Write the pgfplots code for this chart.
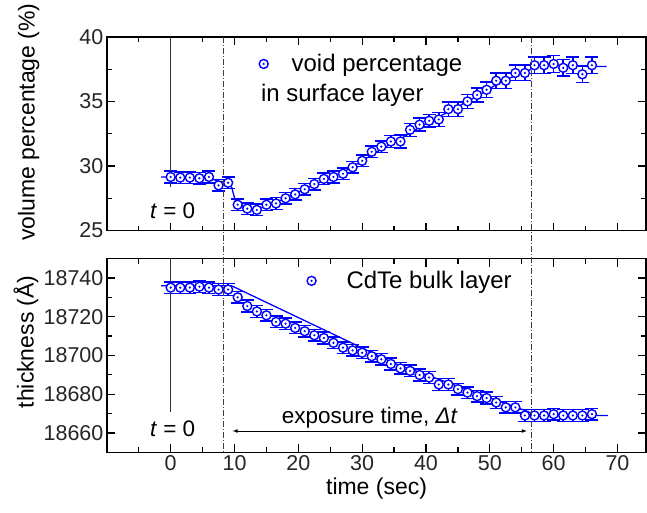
\documentclass[border=0pt]{standalone}
\usepackage{pgfplots}
\pgfplotsset{compat=1.18}
\usepackage{pgfplotstable}
\usepackage{fontspec}
\setmainfont{Liberation Sans}
\pgfdeclareplotmark{odot}{%
  \pgfpathcircle{\pgfpointorigin}{\pgfplotmarksize}%
  \pgfusepathqfillstroke
  \pgfscope
  \pgfsetfillcolor{blue}%
  \pgfpathcircle{\pgfpointorigin}{0.27\pgfplotmarksize}%
  \pgfusepathqfill
  \endpgfscope
}
\pgfplotstableread{
t v e
0 29.15 0.45
1.5 29.1 0.45
3 29.1 0.45
4.5 29.05 0.45
6 29.15 0.45
7.5 28.5 0.45
9 28.7 0.45
10.5 27.0 0.45
12 26.7 0.45
13.5 26.6 0.45
15 27.0 0.45
16.5 27.1 0.45
18 27.5 0.45
19.5 27.8 0.45
21 28.2 0.45
22.5 28.6 0.45
24 29.0 0.45
25.5 29.15 0.45
27 29.4 0.45
28.5 29.9 0.45
30 30.4 0.45
31.5 31.1 0.45
33 31.5 0.45
34.5 31.9 0.45
36 31.9 0.5
37.5 32.8 0.5
39 33.2 0.5
40.5 33.5 0.5
42 33.6 0.55
43.5 34.4 0.55
45 34.4 0.55
46.5 35.0 0.55
48 35.5 0.55
49.5 35.9 0.6
51 36.6 0.6
52.5 36.6 0.6
54 37.2 0.6
55.5 37.2 0.6
57 37.8 0.65
58.5 37.8 0.65
60 37.9 0.65
61.5 37.6 0.65
63 37.8 0.65
64.5 37.1 0.65
66 37.8 0.65
}\topdata
\pgfplotstableread{
t v e
0 18735 3
1.5 18735 3
3 18735 3
4.5 18735.5 3
6 18735 3
7.5 18734 3
9 18734 3
10.5 18730 3
12 18725.5 3
13.5 18722.7 3
15 18720.7 3
16.5 18717.3 3
18 18716.4 3
19.5 18714.2 3
21 18712.5 3
22.5 18710.4 3
24 18709 3
25.5 18706.5 3
27 18704 3
28.5 18702.6 3
30 18701.4 3
31.5 18699.6 3
33 18698 3
34.5 18695.6 3
36 18693.3 3
37.5 18692 3
39 18689.9 3
40.5 18688.6 3
42 18685 3
43.5 18685 3
45 18682.6 3
46.5 18680.8 3
48 18679 3
49.5 18678 3
51 18675.7 3
52.5 18673.2 3
54 18673.2 3
55.5 18669 3
57 18669 3
58.5 18669 3
60 18669.7 3
61.5 18669 3
63 18669 3
64.5 18669 3
66 18669.7 3
}\botdata
\pgfplotsset{
  panel/.style={
    scale only axis, width=540pt, height=194pt,
    xmin=-10, xmax=74.5,
    xtick={0,10,...,70}, minor xtick={-5,5,...,75},
    tick align=inside, tick pos=both,
    major tick length=8pt, minor tick length=5pt,
    every tick/.style={black, line width=1.2pt},
    axis line style={line width=1.6pt},
    tick label style={font=\fontsize{21.5}{25}\selectfont, text=black!85},
    label style={font=\fontsize{23}{27}\selectfont},
    /pgf/number format/assume math mode=true,
    /pgf/number format/1000 sep={},
    scaled y ticks=false,
    clip=false,
  },
  datapl/.style={blue, only marks, mark=odot, mark size=4.5pt,
    mark options={fill=white, solid, line width=1.4pt},
    error bars/.cd, y dir=both, y explicit,
    error bar style={line width=1.5pt, blue},
    error mark options={rotate=90, mark size=6.5pt, line width=1.5pt, blue}},
  fitpl/.style={blue, line width=1.3pt, no marks, forget plot},
}
\begin{document}
\begin{tikzpicture}
\begin{axis}[panel, at={(0,0)}, anchor=south west,
  ymin=25, ymax=40, ytick={25,30,35,40}, minor ytick={27.5,32.5,37.5},
  xticklabels={},
  ylabel={volume percentage (\%)},
  ylabel style={at={(axis description cs:-0.145,0.56)}, anchor=center},
  legend style={draw=none, fill=none, at={(axis cs:13.6,37.9)}, anchor=west,
    font=\fontsize{24}{28}\selectfont, inner sep=0pt},
  legend image code/.code={\path[draw=none, fill=none] (0pt,0pt) -- (32pt,0pt); \draw[#1] plot coordinates {(6pt,0pt)};},
]
\addplot[fitpl] coordinates {(-1.5,29.15) (0,29.15) (6,29.1) (7.5,28.8) (9.3,28.8) (10.3,27.0) (12,26.7) (13.5,26.65) (15,26.9) (18,27.5) (21,28.2) (24,28.9) (27,29.5) (30,30.4) (33,31.3) (36,32.1) (39,33.0) (42,33.8) (45,34.6) (48,35.4) (51,36.3) (54,37.0) (56,37.3) (57,37.8) (60,37.8) (66,37.7) (68.3,37.7)};
\addplot[datapl] table[x=t, y=v, y error=e] {\topdata};
\addlegendentry{void percentage}
\draw[black!80, line width=1.3pt] (axis cs:0,40) -- (axis cs:0,28.4);
\node[font=\fontsize{22.5}{26}\selectfont] at (axis cs:0.3,26.55) {\textit{t} = 0};
\node[anchor=west, font=\fontsize{24}{28}\selectfont] at (axis cs:13.6,35.5) {in surface layer};
\coordinate (ta) at (axis cs:8.3,40);
\coordinate (tb) at (axis cs:56.5,40);
\end{axis}
\begin{axis}[panel, at={(0,-222pt)}, anchor=south west,
  ymin=18650, ymax=18750, ytick={18660,18680,...,18740}, minor ytick={18650,18670,...,18750},
  xlabel={time (sec)},
  ylabel={thickness (Å)},
  ylabel style={at={(axis description cs:-0.15,0.57)}, anchor=center},
  legend style={draw=none, fill=none, at={(axis cs:21.1,18738.5)}, anchor=west,
    font=\fontsize{24}{28}\selectfont, inner sep=0pt},
  legend image code/.code={\path[draw=none, fill=none] (0pt,0pt) -- (39pt,0pt); \draw[#1] plot coordinates {(6pt,0pt)};},
]
\addplot[fitpl] coordinates {(-1.5,18736) (9.5,18736) (35,18696) (56,18671) (57,18669) (68.5,18669)};
\addplot[datapl] table[x=t, y=v, y error=e] {\botdata};
\addlegendentry{CdTe bulk layer}
\draw[black!80, line width=1.3pt] (axis cs:0,18750) -- (axis cs:0,18671);
\node[font=\fontsize{22.5}{26}\selectfont] at (axis cs:0.3,18662) {\textit{t} = 0};
\draw[<->, >=latex, line width=0.7pt] (axis cs:9.7,18661) -- (axis cs:55.8,18661);
\node[font=\fontsize{22.5}{26}\selectfont] at (axis cs:31.2,18668) {exposure time, \textit{Δt}};
\coordinate (ba) at (axis cs:8.3,18650);
\coordinate (bb) at (axis cs:56.5,18650);
\end{axis}
\draw[black!75, line width=0.8pt, dash pattern=on 6pt off 2pt on 1pt off 2pt] (ta) -- (ba);
\draw[black!75, line width=0.8pt, dash pattern=on 6pt off 2pt on 1pt off 2pt] (tb) -- (bb);
\useasboundingbox (-107pt,-282pt) rectangle (540.75pt,226pt);
\end{tikzpicture}
\end{document}
